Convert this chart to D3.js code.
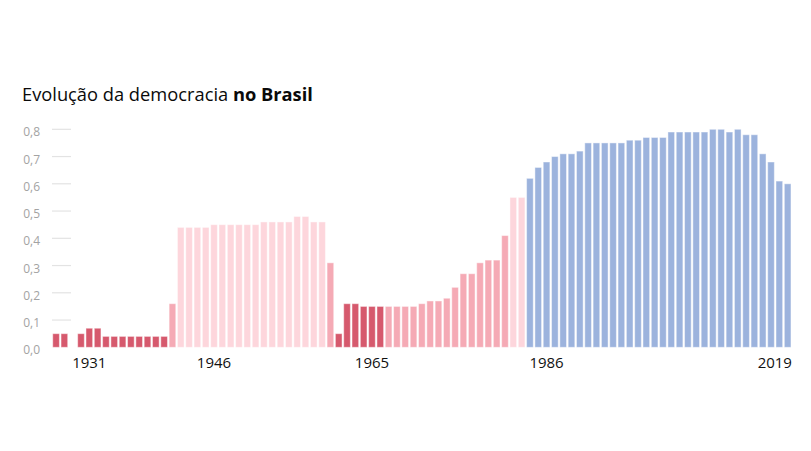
<!DOCTYPE html>
<html>
<head>
<meta charset="utf-8">
<script src="https://cdn.jsdelivr.net/npm/d3@7"></script>
<style>
  html, body { margin: 0; padding: 0; background: #fff; }
  svg { display: block; }
</style>
</head>
<body>
<svg id="chart" width="811" height="451"></svg>
<script>
// ---- data ----
const years = d3.range(1931, 2020); // 1931..2019
const values = [
  0.05, 0.05, null, 0.05, 0.07, 0.07, 0.04, 0.04, 0.04, 0.04,   // 1931-1940
  0.04, 0.04, 0.04, 0.04, 0.16, 0.44, 0.44, 0.44, 0.44, 0.45,   // 1941-1950
  0.45, 0.45, 0.45, 0.45, 0.45, 0.46, 0.46, 0.46, 0.46, 0.48,   // 1951-1960
  0.48, 0.46, 0.46, 0.31, 0.05, 0.16, 0.16, 0.15, 0.15, 0.15,   // 1961-1970
  0.15, 0.15, 0.15, 0.15, 0.16, 0.17, 0.17, 0.18, 0.22, 0.27,   // 1971-1980
  0.27, 0.31, 0.32, 0.32, 0.41, 0.55, 0.55, 0.62, 0.66, 0.68,   // 1981-1990
  0.70, 0.71, 0.71, 0.72, 0.75, 0.75, 0.75, 0.75, 0.75, 0.76,   // 1991-2000
  0.76, 0.77, 0.77, 0.77, 0.79, 0.79, 0.79, 0.79, 0.79, 0.80,   // 2001-2010
  0.80, 0.79, 0.80, 0.78, 0.78, 0.71, 0.68, 0.61, 0.60          // 2011-2019
];
// regime class per year: d = dark red, m = medium pink, l = light pink, b = blue
const regimes = [
  "d","d","d","d","d","d","d","d","d","d",
  "d","d","d","d","m","l","l","l","l","l",
  "l","l","l","l","l","l","l","l","l","l",
  "l","l","l","m","d","d","d","d","d","d",
  "m","m","m","m","m","m","m","m","m","m",
  "m","m","m","m","m","l","l","b","b","b",
  "b","b","b","b","b","b","b","b","b","b",
  "b","b","b","b","b","b","b","b","b","b",
  "b","b","b","b","b","b","b","b","b"
];
const yTicks = [0, 0.1, 0.2, 0.3, 0.4, 0.5, 0.6, 0.7, 0.8];
const xTickLabels = [1931, 1946, 1965, 1986];
const lastLabel = 2019;

const colors = { d: "#d6596d", m: "#f5aab5", l: "#fdd6dc", b: "#9cb3dd" };

const data = years.map((y, i) => ({ year: y, value: values[i], regime: regimes[i] }));

// ---- layout ----
const svg = d3.select("#chart");

const x = d3.scaleBand()
  .domain(years)
  .range([51.9, 791.8])
  .paddingInner(0.2)
  .paddingOuter(0.1);

const y = d3.scaleLinear().domain([0, 0.8]).range([347.3, 129.3]);

// title
const title = svg.append("text")
  .attr("x", 22)
  .attr("y", 101)
  .attr("font-family", "'Open Sans', sans-serif")
  .attr("font-size", 18.3)
  .attr("fill", "#0a0a0a");
title.append("tspan").text("Evolução da democracia ");
title.append("tspan").attr("font-weight", "bold").text("no Brasil");

// y grid ticks (short)
const yg = svg.append("g");
yg.selectAll("line")
  .data(yTicks.filter(d => d > 0))
  .join("line")
  .attr("x1", 52)
  .attr("x2", 71)
  .attr("y1", d => y(d))
  .attr("y2", d => y(d))
  .attr("stroke", "#e3e3e3")
  .attr("stroke-width", 1.2);

yg.selectAll("text")
  .data(yTicks)
  .join("text")
  .attr("x", 40)
  .attr("y", d => y(d) + 7)
  .attr("text-anchor", "end")
  .attr("font-family", "'Open Sans', sans-serif")
  .attr("font-size", 12)
  .attr("fill", "#a3a3a3")
  .text(d => d3.format(".1f")(d).replace(".", ","));

// bars
svg.append("g")
  .selectAll("rect")
  .data(data.filter(d => d.value != null))
  .join("rect")
  .attr("x", d => x(d.year))
  .attr("width", x.bandwidth())
  .attr("y", d => y(d.value))
  .attr("height", d => y(0) - y(d.value))
  .attr("fill", d => colors[d.regime])
  .attr("stroke", "rgba(255,255,255,0.45)")
  .attr("stroke-width", 1);

// x labels: the reference places its year labels on a year scale that runs
// 4 bars ahead of the bars themselves; reproduce that placement.
const xLabel = d3.scaleLinear()
  .domain([1927, 2015])
  .range([x(1931) + x.bandwidth() / 2, x(2019) + x.bandwidth() / 2]);

const xg = svg.append("g")
  .attr("font-family", "'Open Sans', sans-serif")
  .attr("font-size", 15)
  .attr("fill", "#111");

xg.selectAll("text.tick")
  .data(xTickLabels)
  .join("text")
  .attr("class", "tick")
  .attr("x", d => xLabel(d))
  .attr("y", 367.5)
  .attr("text-anchor", "middle")
  .text(d => d);

xg.append("text")
  .attr("x", x(lastLabel) + x.bandwidth() + 1)
  .attr("y", 367.5)
  .attr("text-anchor", "end")
  .text(lastLabel);
</script>
</body>
</html>
